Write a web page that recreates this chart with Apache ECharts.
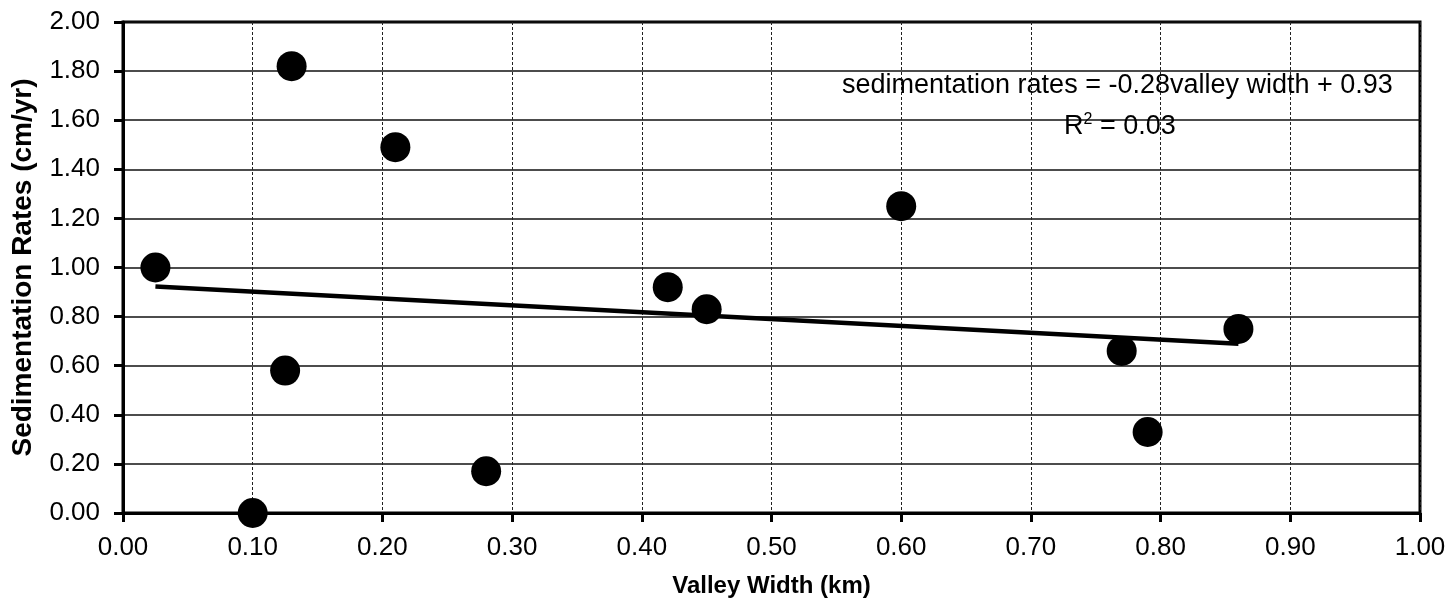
<!DOCTYPE html>
<html>
<head>
<meta charset="utf-8">
<script src="https://cdn.jsdelivr.net/npm/echarts@6/dist/echarts.min.js"></script>
<style>
  html, body { margin: 0; padding: 0; background: #fff; }
  #chart { width: 1453px; height: 604px; }
</style>
</head>
<body>
<div id="chart"></div>
<script>
// Valley width (km) and measured sedimentation rate (cm/yr) per site
const valleyWidth = [0.025, 0.13, 0.21, 0.125, 0.10, 0.28, 0.42, 0.45, 0.60, 0.77, 0.79, 0.86];
const sedRate     = [1.00, 1.82, 1.49, 0.58, 0.00, 0.17, 0.92, 0.83, 1.25, 0.66, 0.33, 0.75];

// Linear fit reported in the equation label
const fitSlope = -0.28;
const fitIntercept = 0.93;
const fitR2 = 0.03;

const FONT = '"Liberation Sans", Arial, sans-serif';

const points = valleyWidth.map((x, i) => [x, sedRate[i]]);
const xMin = Math.min(...valleyWidth);
const xMax = Math.max(...valleyWidth);
const trend = [xMin, xMax].map(x => [x, fitSlope * x + fitIntercept]);

const chart = echarts.init(document.getElementById('chart'), null, { renderer: 'canvas' });

chart.setOption({
  backgroundColor: '#ffffff',
  animation: false,
  grid: {
    left: 123, right: 33, top: 22, bottom: 91,
    show: true, borderColor: '#000', borderWidth: 3, backgroundColor: 'transparent'
  },
  xAxis: {
    type: 'value', min: 0, max: 1, interval: 0.1,
    name: 'Valley Width (km)', nameLocation: 'middle', nameGap: 61,
    nameTextStyle: { fontFamily: FONT, fontWeight: 'bold', fontSize: 24, color: '#000' },
    axisLine: { show: true, onZero: false, lineStyle: { color: '#000', width: 3 } },
    axisTick: { show: true, inside: false, length: 9, lineStyle: { color: '#000', width: 3 } },
    axisLabel: { margin: 22, fontFamily: FONT, fontSize: 26, color: '#000',
                 formatter: v => v.toFixed(2) },
    splitLine: { show: true, lineStyle: { color: '#222', width: 1, type: [3, 2] } }
  },
  yAxis: {
    type: 'value', min: 0, max: 2, interval: 0.2,
    name: 'Sedimentation Rates (cm/yr)', nameLocation: 'middle', nameGap: 86, nameRotate: 90,
    nameTextStyle: { fontFamily: FONT, fontWeight: 'bold', fontSize: 28, color: '#000' },
    axisLine: { show: true, onZero: false, lineStyle: { color: '#000', width: 3 } },
    axisTick: { show: true, inside: false, length: 9, lineStyle: { color: '#000', width: 3 } },
    axisLabel: { margin: 23, fontFamily: FONT, fontSize: 26, color: '#000',
                 formatter: v => v.toFixed(2) },
    splitLine: { show: true, lineStyle: { color: '#111', width: 1.5, type: 'solid' } }
  },
  series: [
    {
      type: 'line',
      data: trend,
      symbol: 'none',
      lineStyle: { color: '#000', width: 4.5 },
      z: 3,
      silent: true
    },
    {
      type: 'scatter',
      data: points,
      symbol: 'circle',
      symbolSize: 30,
      itemStyle: { color: '#000', opacity: 1 },
      clip: false,
      z: 4
    }
  ],
  graphic: [
    {
      type: 'text', left: 842, top: 72, z: 10,
      style: {
        text: 'sedimentation rates = ' + fitSlope.toFixed(2) + 'valley width + ' + fitIntercept.toFixed(2),
        font: '27px ' + FONT, fill: '#000'
      }
    },
    {
      type: 'text', left: 1064, top: 112, z: 10,
      style: {
        text: '{r|R}{sup|2}{r| = ' + fitR2.toFixed(2) + '}',
        rich: {
          r: { font: '27px ' + FONT, fill: '#000', verticalAlign: 'bottom' },
          sup: { font: '16px ' + FONT, fill: '#000', verticalAlign: 'top', padding: [0, 0, 12, 0] }
        }
      }
    }
  ]
});
</script>
</body>
</html>
